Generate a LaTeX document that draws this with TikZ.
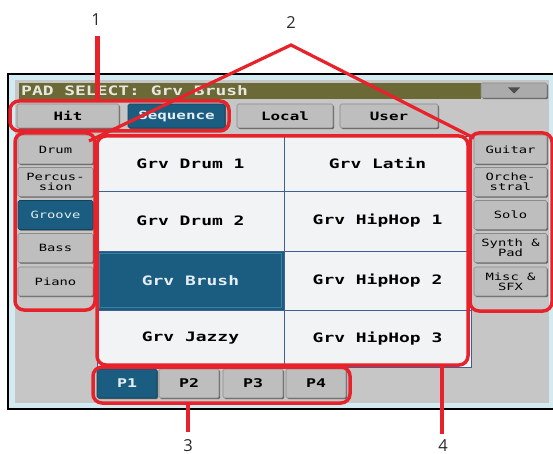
\documentclass[tikz,border=0pt]{standalone}
\usepackage{fontspec}
\newfontfamily\lcd{DejaVu Sans Mono}[FakeStretch=1.38]
\newfontfamily\lblfont{Open Sans}
\usetikzlibrary{shadows}
\definecolor{scrgray}{HTML}{C6C6C6}
\definecolor{btngray}{HTML}{BEBEBE}
\definecolor{btnedge}{HTML}{8A8A8A}
\definecolor{btnshadow}{HTML}{5E5E5E}
\definecolor{selblue}{HTML}{1B5D80}
\definecolor{selrimc}{HTML}{3A7FA6}
\definecolor{seltext}{HTML}{E4EEF3}
\definecolor{olivebar}{HTML}{6B6935}
\definecolor{titletext}{HTML}{E8E8E0}
\definecolor{frameblue}{HTML}{D2EBF0}
\definecolor{cellwhite}{HTML}{F1F3F5}
\definecolor{gridline}{HTML}{3E5F94}
\definecolor{hired}{HTML}{E8222A}
\definecolor{lbltext}{HTML}{2B2B2B}
\begin{document}
\begin{tikzpicture}[x=1pt,y=-1pt,
  btn/.style={draw=btnedge, line width=0.6, fill=btngray, rounded corners=1.5,
    inner sep=0, outer sep=0, text=black,
    drop shadow={shadow xshift=1.2pt, shadow yshift=-1.2pt, fill=btnshadow, opacity=1}},
  selbtn/.style={btn, fill=selblue, draw=selblue!70!black, text=seltext},
  tabbtn/.style={minimum height=24, font=\lcd\bfseries\fontsize{11.5}{12}\selectfont},
  sidebtn/.style={minimum width=75, minimum height=29, align=center,
    font=\lcd\fontsize{10}{10}\selectfont},
  pagebtn/.style={minimum width=60, minimum height=29, font=\lcd\bfseries\fontsize{12}{12}\selectfont},
  cell/.style={draw=gridline, line width=0.8, fill=cellwhite, inner sep=0, outer sep=0,
    minimum width=187, font=\lcd\bfseries\fontsize{13}{13}\selectfont, text=black},
  selcell/.style={cell, fill=selblue, text=seltext},
  redbox/.style={draw=hired, line width=3.5, rounded corners=9, inner sep=0, outer sep=0},
  redline/.style={draw=hired, line width=4.3},
  reddiag/.style={draw=hired, line width=3.2},
  numlbl/.style={text=lbltext, font=\lblfont\fontsize{16.5}{18}\selectfont, inner sep=0}
]
\useasboundingbox (0,0) rectangle (553,454);
\fill[white] (0,0) rectangle (553,454);
% screen frame
\fill[frameblue] (8,74) rectangle (553,409);
\draw[black, line width=1.3] (553,74) -- (8,74) -- (8,409) -- (553,409);
\fill[scrgray] (15,80) rectangle (549,403);
% title bar
\fill[olivebar] (19,83) rectangle (481,99);
\node[anchor=west, inner sep=0, text=titletext, font=\lcd\bfseries\fontsize{13}{13}\selectfont] (title) at (21,91) {PAD SELECT: Grv Brush};
\node[btn, minimum width=66, minimum height=15, fill=btngray!90!black] (drop) at (514,90.5) {};
\fill[black!70] (508,87.5) -- (520,87.5) -- (514,93.5) -- cycle;
% tabs
\node[btn, tabbtn, minimum width=102] (hit) at (68,116) {Hit};
\node[selbtn, tabbtn, minimum width=97] (seq) at (176.5,116) {Sequence};
\node[btn, tabbtn, minimum width=96] (local) at (285,116) {Local};
\node[btn, tabbtn, minimum width=98] (user) at (389,116) {User};
% left buttons
\node[btn, sidebtn] (drum) at (55.5,149.5) {Drum};
\node[btn, sidebtn] (perc) at (55.5,182) {Percus-\\sion};
\node[selbtn, sidebtn] (groove) at (55.5,215) {Groove};
\node[btn, sidebtn] (bass) at (55.5,248) {Bass};
\node[btn, sidebtn] (piano) at (55.5,281.5) {Piano};
% right buttons
\node[btn, sidebtn, minimum width=73] (guitar) at (510.5,149.5) {Guitar};
\node[btn, sidebtn, minimum width=73] (orch) at (510.5,182) {Orche-\\stral};
\node[btn, sidebtn, minimum width=73] (solo) at (510.5,215) {Solo};
\node[btn, sidebtn, minimum width=73] (synth) at (510.5,248) {Synth \&\\Pad};
\node[btn, sidebtn, minimum width=73] (misc) at (510.5,281.5) {Misc \&\\SFX};
% grid
\node[cell, minimum height=55] (c11) at (190.5,163.5) {Grv Drum 1};
\node[cell, minimum height=55] (c12) at (377.5,163.5) {Grv Latin};
\node[cell, minimum height=60] (c21) at (190.5,221) {Grv Drum 2};
\node[cell, minimum height=60] (c22) at (377.5,221) {Grv HipHop 1};
\node[selcell, minimum height=59] (c31) at (190.5,280.5) {Grv Brush};
\node[cell, minimum height=59] (c32) at (377.5,280.5) {Grv HipHop 2};
\node[cell, minimum height=57] (c41) at (190.5,338.5) {Grv Jazzy};
\node[cell, minimum height=57] (c42) at (377.5,338.5) {Grv HipHop 3};
\draw[selrimc, line width=1.5] ([shift={(2.5,2.5)}]c31.north west) rectangle ([shift={(-2.5,-2.5)}]c31.south east);
% page buttons
\node[selbtn, pagebtn] (p1) at (127,383.5) {P1};
\node[btn, pagebtn] (p2) at (189,383.5) {P2};
\node[btn, pagebtn] (p3) at (253,383.5) {P3};
\node[btn, pagebtn] (p4) at (316,383.5) {P4};
% red highlight boxes
\node[redbox, minimum width=219, minimum height=30] (tabsR) at (119.5,116) {};
\node[redbox, minimum width=80, minimum height=177] (leftR) at (55,221.5) {};
\node[redbox, minimum width=371, minimum height=229] (gridR) at (282.5,250.5) {};
\node[redbox, minimum width=82, minimum height=178] (rightR) at (511,222) {};
\node[redbox, minimum width=257, minimum height=36] (pageR) at (221.5,385) {};
% callout labels
\node[numlbl] (n1) at (96,20) {1};
\node[numlbl] (n2) at (291,23) {2};
\node[numlbl] (n3) at (188,445.5) {3};
\node[numlbl] (n4) at (443,445.5) {4};
\coordinate (t1) at (97.5,36);
\coordinate (v2) at (291,45);
\coordinate (e2a) at (89,141);
\coordinate (e2b) at (474,138);
\coordinate (t3) at (188,432);
\coordinate (t4) at (442,434);
\draw[redline] (t1) -- (t1 |- tabsR.north);
\draw[reddiag, line join=miter] (e2a) -- (v2) -- (e2b);
\draw[redline] (t3 |- pageR.south) -- (t3);
\draw[redline] (t4 |- gridR.south) -- (t4);
\end{tikzpicture}
\end{document}
